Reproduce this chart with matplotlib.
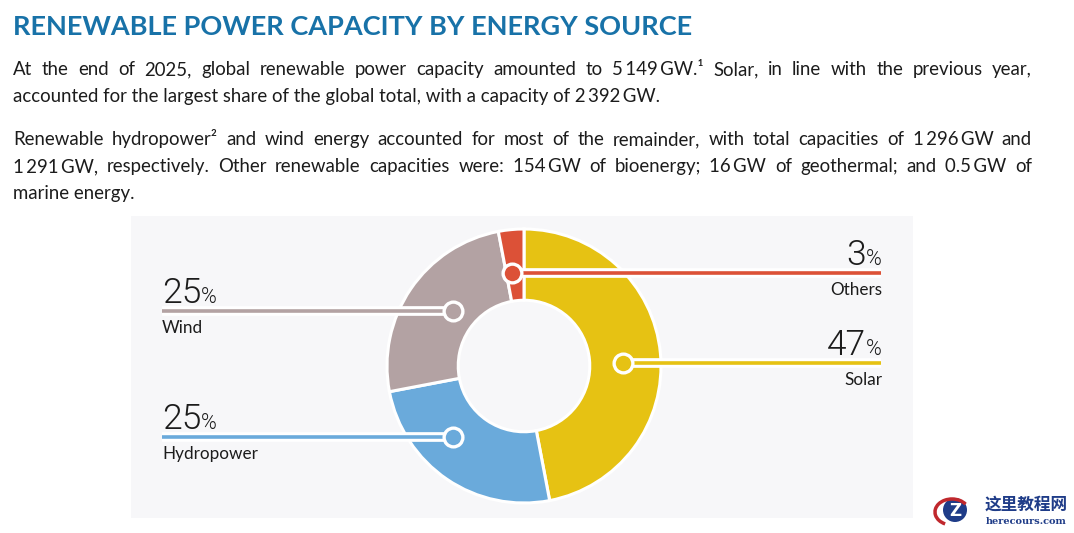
import matplotlib
matplotlib.use("Agg")
import matplotlib.pyplot as plt
import matplotlib.patheffects as pe
from matplotlib.patches import Rectangle, Circle, Arc
import numpy as np

# ---------------- data ----------------
categories = ["Solar", "Hydropower", "Wind", "Others"]
shares = [47, 25, 25, 3]                      # % of global renewable capacity
colors = ["#E6C213", "#6AAADB", "#B3A2A3", "#DC5137"]

title = "RENEWABLE POWER CAPACITY BY ENERGY SOURCE"
para1 = [
    "At the end of 2025, global renewable power capacity amounted to 5\u2009149\u2009GW.\u00b9 Solar, in line with the previous year,",
    "accounted for the largest share of the global total, with a capacity of 2\u2009392\u2009GW.",
]
para2 = [
    "Renewable hydropower\u00b2 and wind energy accounted for most of the remainder, with total capacities of 1\u2009296\u2009GW and",
    "1\u2009291\u2009GW, respectively. Other renewable capacities were: 154\u2009GW of bioenergy; 16\u2009GW of geothermal; and 0.5\u2009GW of",
    "marine energy.",
]

# ---------------- layout (pixels) ----------------
W, H = 1074, 533
fig = plt.figure(figsize=(W / 100, H / 100), dpi=100)
fig.patch.set_facecolor("white")
FAM = ["Lato", "DejaVu Sans"]
NUMFAM = ["Roboto", "Lato", "DejaVu Sans"]
TXT = "#1c1c1c"

bg = fig.add_axes([0, 0, 1, 1], zorder=0)
bg.set_xlim(0, W); bg.set_ylim(H, 0); bg.axis("off")
ov = fig.add_axes([0, 0, 1, 1], zorder=2)
ov.set_xlim(0, W); ov.set_ylim(H, 0); ov.axis("off")
ov.patch.set_visible(False)

renderer = fig.canvas.get_renderer()

# panel
bg.add_patch(Rectangle((131, 216), 782, 302, facecolor="#F7F7F9", edgecolor="none"))

# title
bg.text(13, 35, title, fontsize=19.5, fontweight="bold", color="#1872A8",
        family=FAM, va="baseline", ha="left")

def justified(line, x0, x1, y, just, fs=13.45):
    if not just:
        bg.text(x0, y, line, fontsize=fs, color=TXT, family=FAM, va="baseline", ha="left")
        return
    words = line.split(" ")
    texts = [bg.text(0, y, w, fontsize=fs, color=TXT, family=FAM, va="baseline", ha="left")
             for w in words]
    widths = [t.get_window_extent(renderer).width for t in texts]
    gap = ((x1 - x0) - sum(widths)) / (len(words) - 1)
    x = x0
    for t, w in zip(texts, widths):
        t.set_x(x)
        x += w + gap

x0, x1 = 13, 1032
for i, line in enumerate(para1):
    justified(line, x0, x1, 75 + 27 * i, i < len(para1) - 1)
for i, line in enumerate(para2):
    justified(line, x0, x1, 145 + 27 * i, i < len(para2) - 1)

# ---------------- donut ----------------
cx, cy, R = 524, 366, 137
pa = fig.add_axes([(cx - R) / W, (H - cy - R) / H, 2 * R / W, 2 * R / H], zorder=1)
pa.pie(shares, colors=colors, startangle=90, counterclock=False, radius=1,
       wedgeprops=dict(width=0.52, edgecolor="white", linewidth=2.2))
pa.set_xlim(-1, 1); pa.set_ylim(-1, 1)
pa.set_aspect("auto")
pa.axis("off")

# marker positions (angle deg, radius fraction) and label side
markers = {
    "Solar": (1.7, 0.723, "right"),
    "Hydropower": (225.0, 0.733, "left"),
    "Wind": (142.2, 0.655, "left"),
    "Others": (97.4, 0.685, "right"),
}
xl, xr = 162, 881

for cat, val, col in zip(categories, shares, colors):
    ang, rf, side = markers[cat]
    mx = cx + rf * R * np.cos(np.radians(ang))
    my = cy - rf * R * np.sin(np.radians(ang))
    xend = xr if side == "right" else xl
    ov.plot([mx, xend], [my, my], color=col, lw=2.6, solid_capstyle="butt",
            path_effects=[pe.Stroke(linewidth=7, foreground="white"), pe.Normal()])
    ov.plot([mx], [my], marker="o", ms=13.5, mfc=col, mec="white", mew=2.4)

    num = f"{val}"
    by = my - 8       # baseline of big number
    ly = my + 22      # baseline of category name
    if side == "right":
        tp = ov.text(xend + 1, by, "%", fontsize=15.5, color=TXT, family=NUMFAM,
                     va="baseline", ha="right", fontweight=300)
        wp = tp.get_window_extent(renderer).width
        ov.text(xend + 1 - wp, by, num, fontsize=25.5, color=TXT, family=NUMFAM,
                va="baseline", ha="right", fontweight=300)
        ov.text(xend + 1, ly, cat, fontsize=12.3, color=TXT, family=FAM,
                va="baseline", ha="right")
    else:
        tn = ov.text(xend, by, num, fontsize=25.5, color=TXT, family=NUMFAM,
                     va="baseline", ha="left", fontweight=300)
        wn = tn.get_window_extent(renderer).width
        ov.text(xend + wn, by, "%", fontsize=15.5, color=TXT, family=NUMFAM,
                va="baseline", ha="left", fontweight=300)
        ov.text(xend, ly, cat, fontsize=12.3, color=TXT, family=FAM,
                va="baseline", ha="left")

# watermark
ov.add_patch(Circle((955, 510), 12, facecolor="#1F3C88", edgecolor="none"))
ov.add_patch(Arc((952, 512), 34, 26, theta1=120, theta2=330, color="#C0282D", lw=2.5))
ov.text(955, 511, "Z", fontsize=12, fontweight="bold", color="white",
        family=["DejaVu Sans"], va="center", ha="center")
ov.text(985, 510, "这里教程网", fontsize=12, fontweight="bold", color="#1F3C88",
        family=["Noto Sans CJK SC", "DejaVu Sans"], va="baseline", ha="left")
ov.text(986, 524, "herecours.com", fontsize=7, fontweight="bold", color="#1F3C88",
        family=["DejaVu Serif", "DejaVu Sans"], va="baseline", ha="left")

fig.savefig("out.png", dpi=100)
